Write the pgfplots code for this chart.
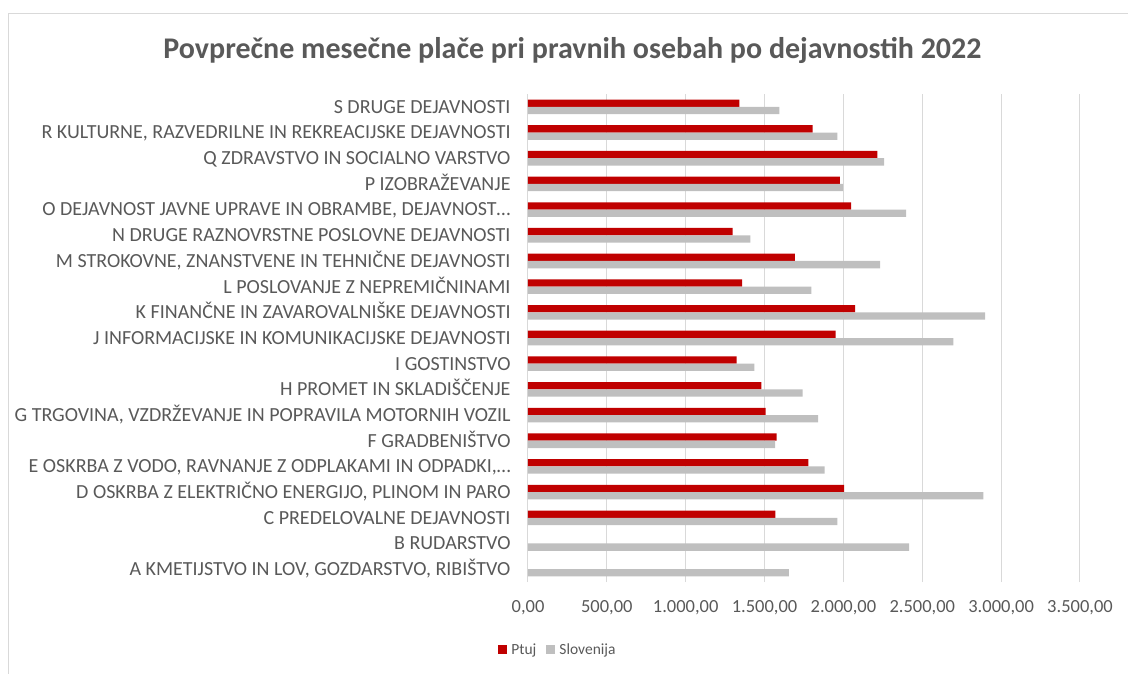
\documentclass[border=0pt]{standalone}
\usepackage{fontspec}
\setmainfont{Carlito}
\usepackage{pgfplots}
\pgfplotsset{compat=1.18}
\definecolor{ptujred}{HTML}{C00000}
\definecolor{slogray}{HTML}{BFBFBF}
\definecolor{txtgray}{HTML}{595959}
\definecolor{gridgray}{HTML}{D9D9D9}
\begin{document}
\begin{tikzpicture}
\draw[gridgray, line width=1pt] (8pt,-700pt) -- (8pt,-13pt) -- (1200pt,-13pt);
\node[txtgray, font=\fontsize{30}{34}\selectfont\bfseries] at (572.5pt,-50pt) {Povprečne mesečne plače pri pravnih osebah po dejavnostih 2022};
\begin{axis}[
  at={(528pt,-582pt)}, anchor=south west,
  scale only axis, width=552pt, height=488pt,
  xbar, bar width=7.3pt,
  xmin=0, xmax=3500, ymin=-0.5, ymax=18.5,
  axis line style={draw=none},
  major tick style={draw=none},
  xmajorgrids, grid style={gridgray, line width=1pt},
  xtick={0,500,...,3500},
  xticklabels={{0,00},{500,00},{1.000,00},{1.500,00},{2.000,00},{2.500,00},{3.000,00},{3.500,00}},
  xticklabel style={anchor=center, inner sep=0pt, yshift=-25.5pt, text=txtgray, font=\fontsize{18.5}{21}\selectfont},
  ytick={0,...,18},
  yticklabels={
    {A KMETIJSTVO IN LOV, GOZDARSTVO, RIBIŠTVO},
    {B RUDARSTVO},
    {C PREDELOVALNE DEJAVNOSTI},
    {D OSKRBA Z ELEKTRIČNO ENERGIJO, PLINOM IN PARO},
    {E OSKRBA Z VODO, RAVNANJE Z ODPLAKAMI IN ODPADKI,…},
    {F GRADBENIŠTVO},
    {G TRGOVINA, VZDRŽEVANJE IN POPRAVILA MOTORNIH VOZIL},
    {H PROMET IN SKLADIŠČENJE},
    {I GOSTINSTVO},
    {J INFORMACIJSKE IN KOMUNIKACIJSKE DEJAVNOSTI},
    {K FINANČNE IN ZAVAROVALNIŠKE DEJAVNOSTI},
    {L POSLOVANJE Z NEPREMIČNINAMI},
    {M STROKOVNE, ZNANSTVENE IN TEHNIČNE DEJAVNOSTI},
    {N DRUGE RAZNOVRSTNE POSLOVNE DEJAVNOSTI},
    {O DEJAVNOST JAVNE UPRAVE IN OBRAMBE, DEJAVNOST…},
    {P IZOBRAŽEVANJE},
    {Q ZDRAVSTVO IN SOCIALNO VARSTVO},
    {R KULTURNE, RAZVEDRILNE IN REKREACIJSKE DEJAVNOSTI},
    {S DRUGE DEJAVNOSTI}},
  yticklabel style={anchor=base east, inner sep=0pt, xshift=-13pt, yshift=-6.4pt, text=txtgray, font=\fontsize{20}{23}\selectfont},
  legend columns=2,
  legend style={at={(rel axis cs:0.0543,-0.1393)}, anchor=center, draw=none, fill=none,
    font=\fontsize{15.5}{18}\selectfont, text=txtgray,
    /tikz/every even column/.append style={column sep=8pt}},
  legend image code/.code={\fill[#1] (0pt,-4.5pt) rectangle (9pt,4.5pt); \path (11pt,0pt);},
]
\addplot[draw=none, fill=ptujred, bar shift=3.65pt] coordinates {
 (1569,2) (2004,3) (1777,4) (1576,5) (1506,6) (1480,7) (1323,8) (1951,9) (2074,10)
 (1357,11) (1692,12) (1298,13) (2049,14) (1978,15) (2216,16) (1804,17) (1340,18)};
\addplot[draw=none, fill=slogray, bar shift=-3.65pt] coordinates {
 (1654,0) (2417,1) (1962,2) (2888,3) (1881,4) (1567,5) (1839,6) (1741,7) (1436,8)
 (2697,9) (2899,10) (1796,11) (2233,12) (1410,13) (2398,14) (1998,15) (2258,16) (1962,17) (1594,18)};
\legend{Ptuj, Slovenija}
\end{axis}
\pgfresetboundingbox
\path[use as bounding box] (0,0) rectangle (1128pt,-673pt);
\end{tikzpicture}
\end{document}
